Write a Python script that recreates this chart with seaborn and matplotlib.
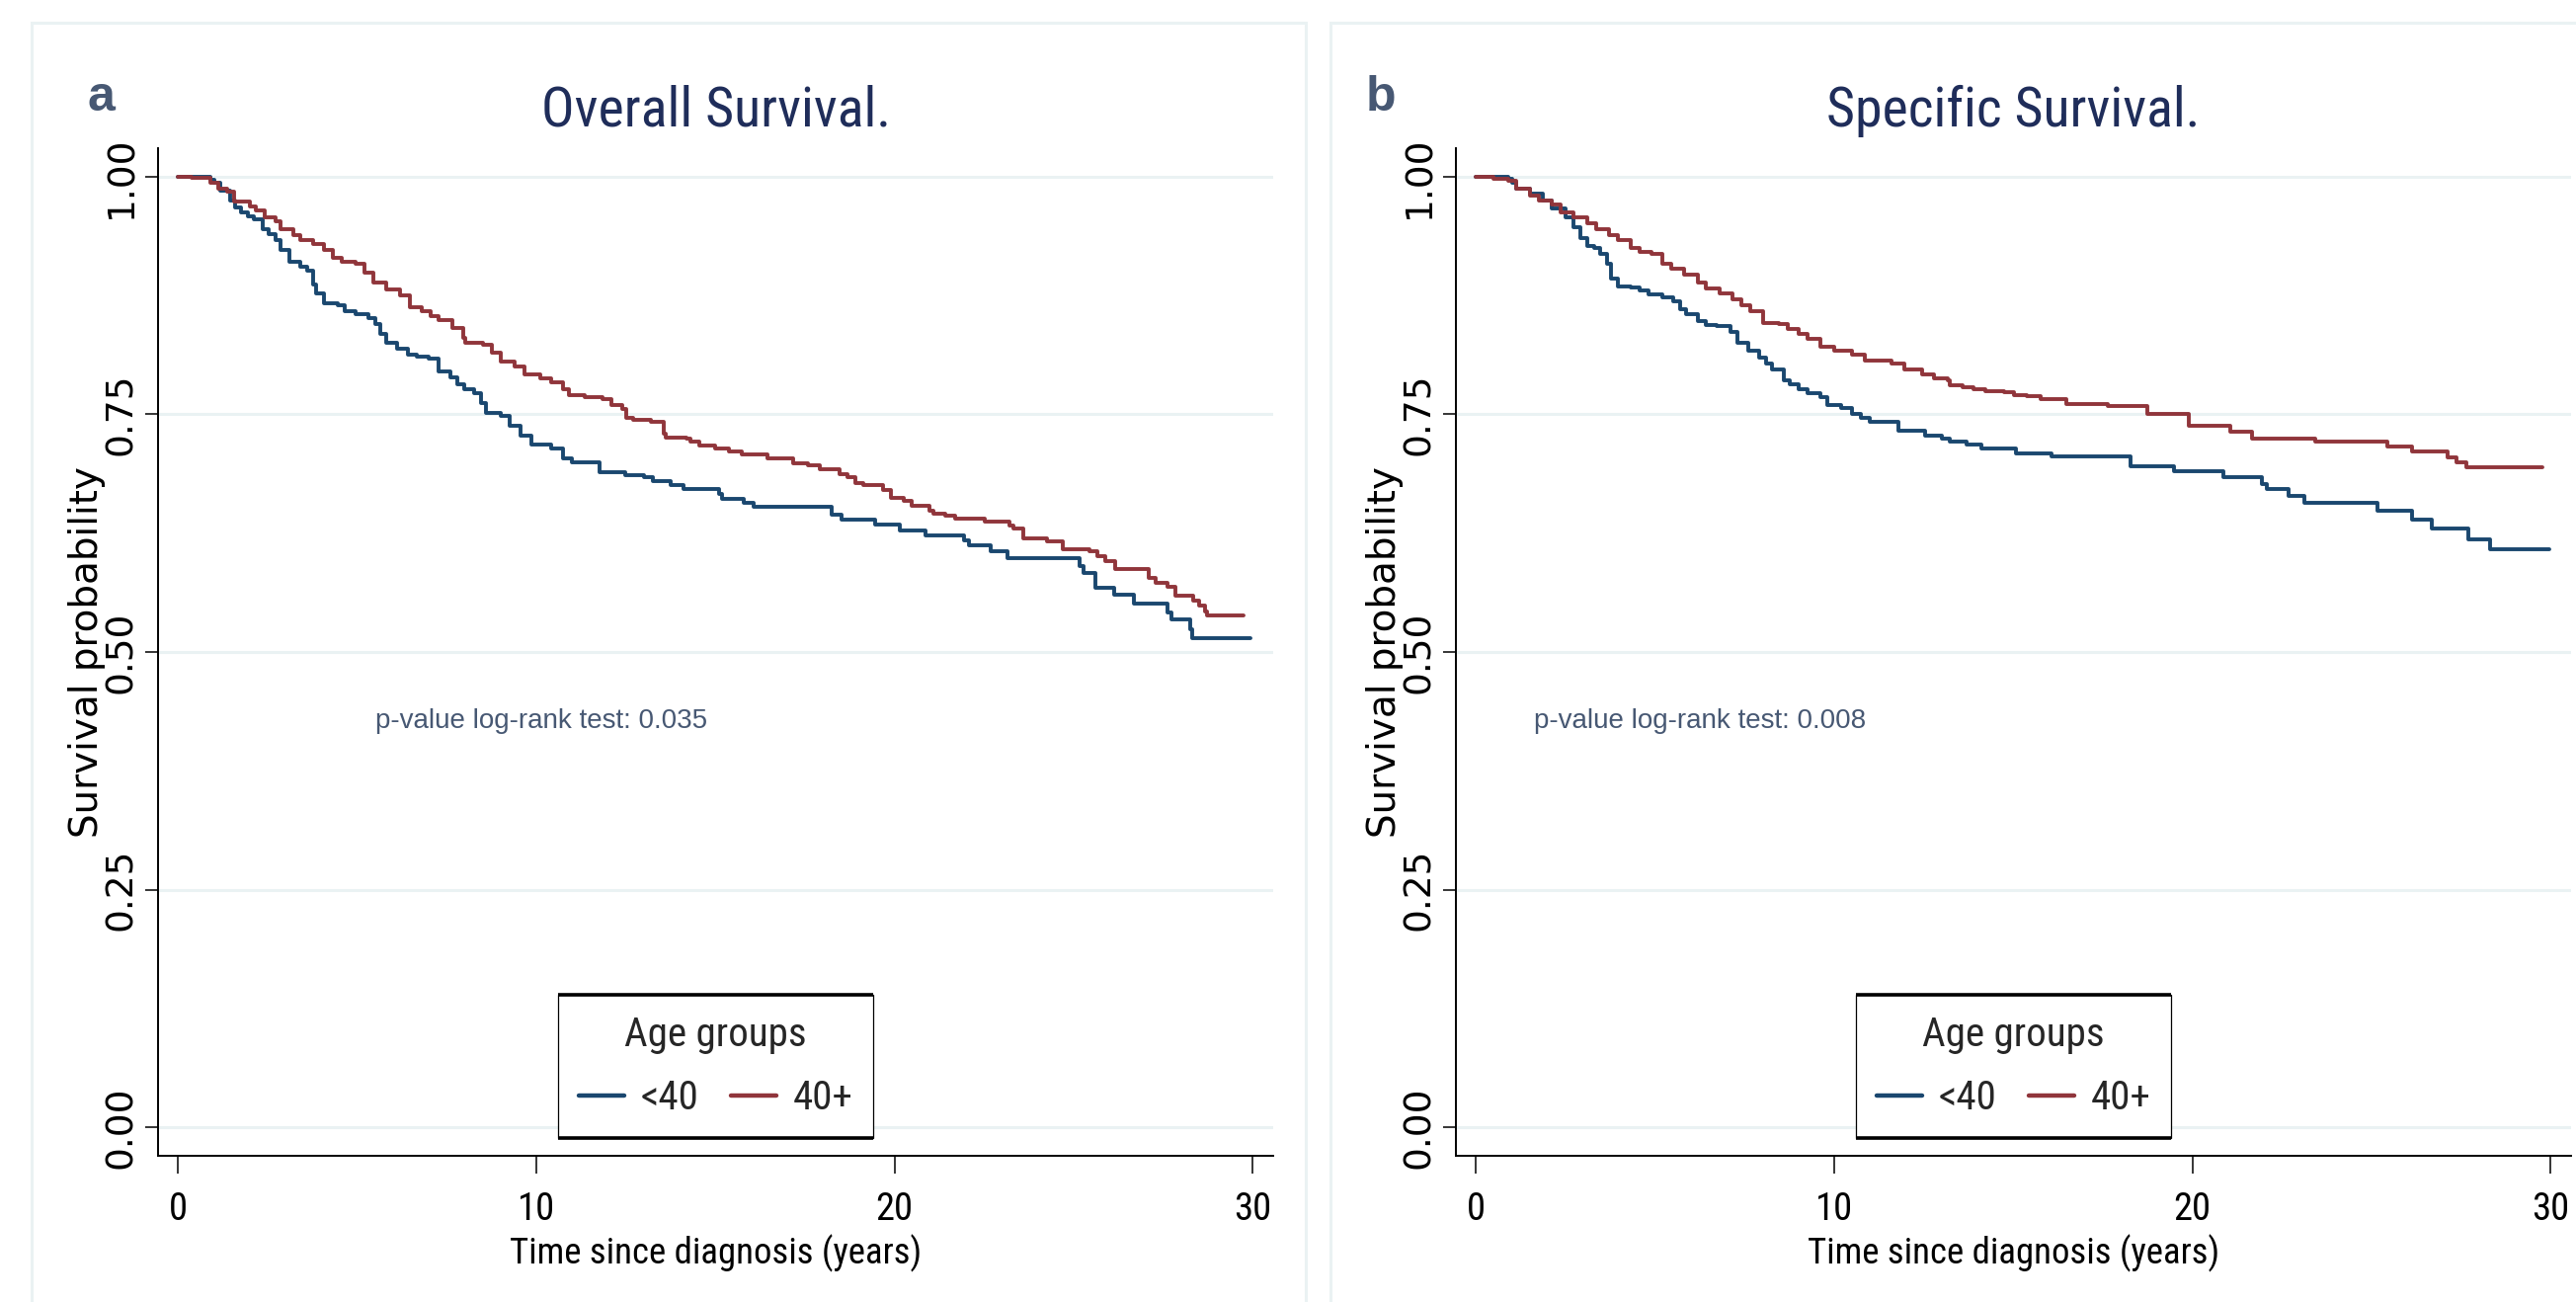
import pandas as pd
import seaborn as sns
import matplotlib.pyplot as plt
from matplotlib import font_manager
from matplotlib.font_manager import FontProperties
from matplotlib.patches import Rectangle
from matplotlib.lines import Line2D

# Kaplan-Meier step points (time in years, survival)
groups = ["<40", "40+"]
titles = ["Overall Survival.", "Specific Survival."]
panel_tags = ["a", "b"]
p_values = ["0.035", "0.008"]
p_text_x = [5.51, 1.63]

os_young_t = [0, 0.90, 1.02, 1.20, 1.45, 1.60, 1.76, 1.95, 2.13, 2.37,
              2.55, 2.74, 2.86, 3.11, 3.42, 3.60, 3.79, 3.85, 4.09, 4.46,
              4.65, 4.96, 5.33, 5.51, 5.65, 5.82, 6.13, 6.43, 6.68, 7.00,
              7.29, 7.60, 7.79, 8.00, 8.28, 8.45, 8.59, 9.02, 9.26, 9.57,
              9.88, 10.43, 10.74, 10.99, 11.78, 12.50, 13.02, 13.26, 13.75, 14.12,
              15.10, 15.20, 15.80, 16.08, 18.26, 18.53, 19.46, 20.16, 20.87, 21.93,
              22.09, 22.70, 23.16, 25.18, 25.27, 25.61, 26.14, 26.68, 27.61, 27.72,
              28.25, 28.32, 29.94]
os_young_s = [1.000, 0.997, 0.994, 0.985, 0.975, 0.968, 0.963, 0.958, 0.955, 0.945,
              0.940, 0.933, 0.923, 0.911, 0.905, 0.901, 0.887, 0.877, 0.867, 0.865,
              0.859, 0.855, 0.851, 0.845, 0.835, 0.825, 0.819, 0.813, 0.811, 0.809,
              0.795, 0.789, 0.782, 0.777, 0.772, 0.762, 0.752, 0.748, 0.738, 0.728,
              0.718, 0.714, 0.704, 0.700, 0.689, 0.686, 0.684, 0.680, 0.676, 0.672,
              0.666, 0.661, 0.657, 0.653, 0.644, 0.639, 0.634, 0.628, 0.623, 0.617,
              0.612, 0.606, 0.599, 0.590, 0.583, 0.568, 0.560, 0.551, 0.542, 0.534,
              0.524, 0.515, 0.515]

os_old_t = [0, 0.40, 0.90, 1.14, 1.39, 1.57, 2.00, 2.19, 2.43, 2.74,
            2.86, 3.23, 3.42, 3.79, 4.09, 4.34, 4.59, 4.96, 5.20, 5.45,
            5.82, 6.19, 6.49, 6.80, 7.05, 7.29, 7.66, 7.97, 8.03, 8.52,
            8.77, 9.02, 9.39, 9.69, 10.12, 10.43, 10.74, 10.92, 11.35, 11.85,
            12.09, 12.40, 12.52, 12.71, 13.20, 13.57, 13.63, 14.19, 14.31, 14.55,
            14.99, 15.37, 15.75, 16.46, 17.17, 17.60, 17.93, 18.47, 18.69, 18.91,
            19.13, 19.67, 19.89, 20.27, 20.49, 20.98, 21.09, 21.42, 21.69, 22.51,
            23.22, 23.33, 23.60, 24.25, 24.69, 25.45, 25.67, 25.89, 26.16, 27.09,
            27.30, 27.63, 27.85, 28.34, 28.50, 28.66, 28.72, 29.75]
os_old_s = [1.000, 0.999, 0.994, 0.987, 0.984, 0.974, 0.969, 0.965, 0.957, 0.953,
            0.945, 0.939, 0.933, 0.929, 0.923, 0.915, 0.911, 0.909, 0.899, 0.889,
            0.881, 0.875, 0.863, 0.859, 0.853, 0.849, 0.841, 0.831, 0.825, 0.823,
            0.815, 0.806, 0.800, 0.792, 0.788, 0.784, 0.776, 0.770, 0.768, 0.766,
            0.760, 0.756, 0.746, 0.744, 0.742, 0.730, 0.726, 0.724, 0.721, 0.717,
            0.714, 0.711, 0.708, 0.704, 0.699, 0.696, 0.692, 0.687, 0.684, 0.678,
            0.676, 0.670, 0.662, 0.659, 0.654, 0.649, 0.646, 0.643, 0.640, 0.637,
            0.633, 0.630, 0.620, 0.616, 0.608, 0.606, 0.601, 0.596, 0.587, 0.578,
            0.573, 0.569, 0.559, 0.554, 0.549, 0.543, 0.538, 0.538]

dss_young_t = [0, 0.90, 1.02, 1.14, 1.51, 1.88, 2.13, 2.50, 2.74, 2.93,
               3.11, 3.30, 3.48, 3.66, 3.79, 3.97, 4.34, 4.59, 4.83, 5.20,
               5.51, 5.70, 5.88, 6.19, 6.43, 6.74, 7.10, 7.30, 7.60, 7.91,
               8.10, 8.28, 8.59, 8.77, 9.02, 9.26, 9.63, 9.82, 10.19, 10.50,
               10.74, 10.99, 11.79, 12.53, 13.01, 13.24, 13.70, 14.11, 15.09, 16.07,
               18.27, 19.49, 20.88, 21.94, 22.09, 22.69, 23.13, 25.16, 26.14, 26.68,
               27.70, 28.30, 29.96]
dss_young_s = [1.000, 0.998, 0.994, 0.988, 0.982, 0.975, 0.967, 0.957, 0.947, 0.935,
               0.927, 0.925, 0.919, 0.909, 0.893, 0.885, 0.884, 0.880, 0.876, 0.873,
               0.869, 0.861, 0.855, 0.848, 0.844, 0.843, 0.837, 0.825, 0.817, 0.810,
               0.803, 0.797, 0.786, 0.782, 0.776, 0.772, 0.768, 0.760, 0.757, 0.750,
               0.746, 0.742, 0.733, 0.728, 0.725, 0.721, 0.718, 0.714, 0.709, 0.706,
               0.695, 0.690, 0.684, 0.677, 0.671, 0.664, 0.657, 0.649, 0.639, 0.630,
               0.619, 0.608, 0.608]

dss_old_t = [0, 0.50, 0.90, 1.14, 1.51, 1.76, 2.13, 2.37, 2.74, 3.11,
             3.36, 3.73, 3.97, 4.34, 4.59, 4.90, 5.20, 5.45, 5.82, 6.19,
             6.43, 6.80, 7.17, 7.42, 7.66, 8.03, 8.46, 8.71, 9.02, 9.26,
             9.63, 10.00, 10.50, 10.86, 11.60, 11.97, 12.47, 12.78, 13.18, 13.24,
             13.59, 13.88, 14.22, 14.74, 15.03, 15.38, 15.78, 16.48, 17.64, 18.74,
             19.89, 21.05, 21.68, 23.42, 25.45, 26.14, 27.12, 27.36, 27.64, 29.76]
dss_old_s = [1.000, 0.998, 0.996, 0.988, 0.980, 0.975, 0.971, 0.963, 0.957, 0.951,
             0.945, 0.939, 0.933, 0.925, 0.921, 0.919, 0.909, 0.903, 0.897, 0.889,
             0.882, 0.877, 0.871, 0.865, 0.859, 0.846, 0.845, 0.840, 0.835, 0.829,
             0.821, 0.817, 0.813, 0.807, 0.803, 0.797, 0.792, 0.788, 0.786, 0.781,
             0.779, 0.777, 0.774, 0.773, 0.770, 0.769, 0.766, 0.761, 0.759, 0.750,
             0.738, 0.732, 0.725, 0.721, 0.716, 0.711, 0.705, 0.700, 0.694, 0.694]

x_ticks = [0, 10, 20, 30]
y_ticks = [0.00, 0.25, 0.50, 0.75, 1.00]

NAVY = "#1a476f"
MAROON = "#90353b"
GRID = "#eaf2f3"
TITLE_C = "#1f2d5a"
SLATE = "#475873"

sns.set_theme(style="white")
ARIAL = ["Liberation Sans", "DejaVu Sans"]
WIDE = ["DejaVu Sans"]
plt.rcParams["font.family"] = ARIAL


def pick_narrow():
    # the original uses a condensed face; take the narrowest one installed
    fonts = font_manager.fontManager.ttflist
    names = {f.name for f in fonts}
    for name, k in [("Liberation Sans Narrow", 0.82), ("Arial Narrow", 0.82),
                    ("Roboto Condensed", 0.87), ("Open Sans Condensed", 0.82),
                    ("Noto Sans Condensed", 0.86), ("Noto Sans SemiCondensed", 0.93)]:
        if name in names:
            return dict(family=name, stretch="normal"), k
    for base, k in [("Noto Sans", 0.86), ("Roboto", 0.87), ("Open Sans", 0.85)]:
        if any(f.name == base and f.stretch == "condensed" for f in fonts):
            return dict(family=base, stretch="condensed"), k
    return dict(family="Liberation Sans", stretch="normal"), 1.0


narrow, k = pick_narrow()


def nfont(arial_eq, cap):
    # size that matches the reference width, not taller than its height
    return FontProperties(size=min(cap, arial_eq * 1.08 / k), **narrow)


fp_title = nfont(32.4, 46)
fp_xtick = nfont(22.5, 31)
fp_xlab = nfont(21.3, 32)
fp_leg = nfont(23.8, 33)


def km_frame(t_young, s_young, t_old, s_old):
    return pd.concat([
        pd.DataFrame({"time": t_young, "surv": s_young, "group": groups[0]}),
        pd.DataFrame({"time": t_old, "surv": s_old, "group": groups[1]}),
    ], ignore_index=True)


frames = [km_frame(os_young_t, os_young_s, os_old_t, os_old_s),
          km_frame(dss_young_t, dss_young_s, dss_old_t, dss_old_s)]

W, H = 2608, 1318
fig = plt.figure(figsize=(W / 100, H / 100), dpi=100, facecolor="white")

# light outer panel frames (Stata graph region)
fig.add_artist(Rectangle((32 / W, -0.1), (1322 - 32) / W, 1.1 - 23 / H,
                         transform=fig.transFigure, fill=False, ec=GRID, lw=2.2, zorder=0))
fig.add_artist(Rectangle((1347 / W, -0.1), 0.6, 1.1 - 23 / H,
                         transform=fig.transFigure, fill=False, ec=GRID, lw=2.2, zorder=0))

ax_left_px = [160, 1474]
ax_w_px = 1129
ax_top_px, ax_bot_px = 150, 1170
tag_x_px = [88, 1383]
leg_em = fp_leg.get_size_in_points() * 100 / 72

legends = []
for i, df in enumerate(frames):
    ax = fig.add_axes([ax_left_px[i] / W, 1 - ax_bot_px / H,
                       ax_w_px / W, (ax_bot_px - ax_top_px) / H])
    ax.set_facecolor("white")
    for y in y_ticks:
        ax.axhline(y, color=GRID, lw=2.2, zorder=0)
    sns.lineplot(data=df, x="time", y="surv", hue="group", hue_order=groups,
                 palette=[NAVY, MAROON], drawstyle="steps-post", estimator=None,
                 sort=False, linewidth=2.8, legend=False, ax=ax)

    ax.set_xlim(-0.55, 30.57)
    ax.set_ylim(-0.0301, 1.0301)
    ax.set_xticks(x_ticks)
    ax.set_xticklabels([str(v) for v in x_ticks])
    ax.set_yticks(y_ticks)
    ax.set_yticklabels([f"{v:.2f}" for v in y_ticks])

    for side in ["top", "right"]:
        ax.spines[side].set_visible(False)
    for side in ["left", "bottom"]:
        ax.spines[side].set_color("black")
        ax.spines[side].set_linewidth(1.4)

    ax.tick_params(axis="x", length=13, width=1.1, pad=13,
                   color="black", labelcolor="black", bottom=True)
    ax.tick_params(axis="y", length=9.5, width=1.1, pad=4, labelsize=27,
                   labelrotation=90, color="black", labelcolor="black", left=True)
    for lbl in ax.get_xticklabels():
        lbl.set_fontproperties(fp_xtick)
    for lbl in ax.get_yticklabels():
        lbl.set_fontfamily(WIDE)
        lbl.set_va("center")

    ax.set_xlabel("Time since diagnosis (years)", fontproperties=fp_xlab,
                  color="black", va="top")
    ax.xaxis.set_label_coords(0.5, -(1250 - ax_bot_px) / (ax_bot_px - ax_top_px))
    ax.set_ylabel("Survival probability", fontsize=28, family=WIDE,
                  color="black", va="center")
    ax.yaxis.set_label_coords(-(160 - 88) / ax_w_px, 0.5)

    ax.set_title(titles[i], fontproperties=fp_title, color=TITLE_C, pad=16)
    fig.text(tag_x_px[i] / W, 1 - 112 / H, panel_tags[i], fontsize=36,
             fontweight="bold", color=SLATE, family=ARIAL, va="baseline")

    ax.text(p_text_x[i], 0.42, f"p-value log-rank test: {p_values[i]}",
            family=ARIAL, fontsize=20, color=SLATE, va="baseline")

    handles = [Line2D([], [], color=NAVY, lw=3.2), Line2D([], [], color=MAROON, lw=3.2)]
    leg = ax.legend(handles, groups, title="Age groups", ncol=2,
                    loc="lower center", bbox_to_anchor=(0.5, 18 / 1020),
                    borderaxespad=0, frameon=True, fancybox=False,
                    edgecolor="black", framealpha=1,
                    borderpad=21 / leg_em, labelspacing=25 / leg_em,
                    handlelength=46 / leg_em, handletextpad=17 / leg_em,
                    columnspacing=32 / leg_em, prop=fp_leg,
                    title_fontproperties=fp_leg)
    leg.get_frame().set_linewidth(0.9)
    legends.append(leg)

# Stata-style legend box: heavier rules at top and bottom
fig.canvas.draw()
inv = fig.transFigure.inverted()
for leg in legends:
    bb = leg.get_frame().get_window_extent()
    (x0, y0), (x1, y1) = inv.transform([[bb.x0, bb.y0], [bb.x1, bb.y1]])
    for yy in (y0, y1):
        fig.add_artist(Line2D([x0, x1], [yy, yy], transform=fig.transFigure,
                              color="black", lw=2.6, solid_capstyle="butt"))

fig.savefig("out.png", dpi=100, facecolor="white")
